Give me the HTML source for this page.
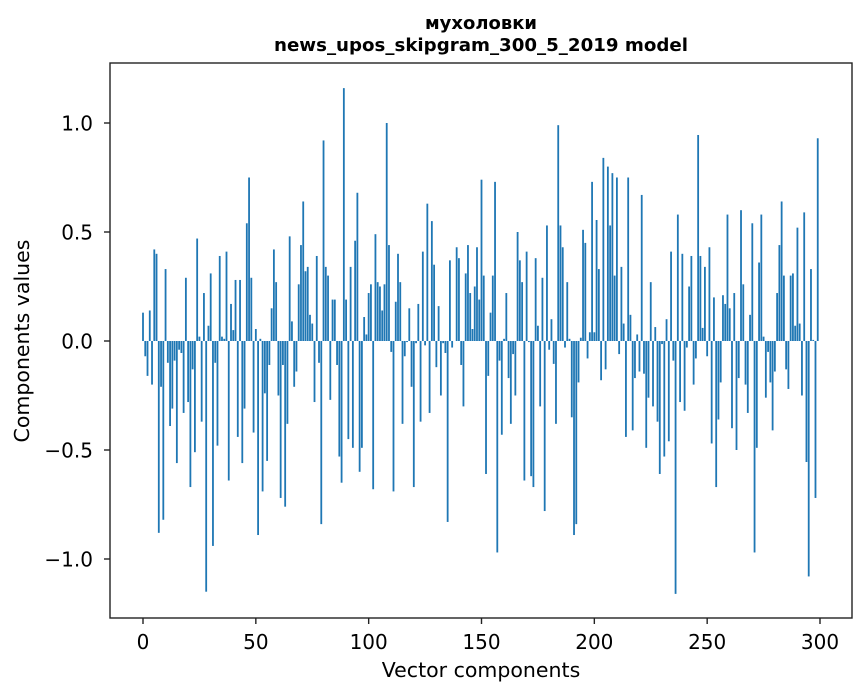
<!DOCTYPE html>
<html><head><meta charset="utf-8"><style>
body{margin:0;background:#fff}
svg{display:block;font-family:"DejaVu Sans","Liberation Sans",sans-serif}
</style></head><body>
<svg id="chart" width="867" height="696" xmlns="http://www.w3.org/2000/svg">
<rect width="867" height="696" fill="#fff"/>
<text x="481" y="29" text-anchor="middle" font-size="18" font-weight="bold" textLength="112" lengthAdjust="spacingAndGlyphs">мухоловки</text>
<text x="481" y="51" text-anchor="middle" font-size="18" font-weight="bold" textLength="414" lengthAdjust="spacingAndGlyphs">news_upos_skipgram_300_5_2019 model</text>
<g id="bars"></g>
<g id="xticks"></g>
<g id="yticks"></g>
<rect x="110" y="63" width="742" height="555" fill="none" stroke="#222" stroke-width="1.4"/>
<text x="481" y="677" text-anchor="middle" font-size="20.5">Vector components</text>
<text transform="translate(29,341) rotate(-90)" text-anchor="middle" font-size="20.5">Components values</text>
</svg>
<script>
const values = [
0.13,-0.07,-0.16,0.14,-0.20,0.42,0.40,-0.88,-0.21,-0.82,
0.33,-0.10,-0.39,-0.31,-0.09,-0.56,-0.04,-0.055,-0.33,0.29,
-0.28,-0.67,-0.13,-0.51,0.47,0.02,-0.37,0.22,-1.15,0.07,
0.31,-0.94,-0.10,-0.48,0.39,0.02,0.01,0.41,-0.64,0.17,
0.05,0.28,-0.44,0.28,-0.56,-0.31,0.54,0.75,0.29,-0.42,
0.055,-0.89,0.01,-0.69,-0.24,-0.55,-0.11,0.15,0.42,0.27,
-0.25,-0.72,-0.11,-0.76,-0.38,0.48,0.09,-0.21,-0.14,0.26,
0.44,0.64,0.32,0.34,0.12,0.08,-0.28,0.39,-0.10,-0.84,
0.92,0.34,0.30,-0.27,0.19,0.19,-0.11,-0.53,-0.65,1.16,
0.19,-0.45,0.34,-0.49,0.46,0.68,-0.60,-0.49,0.11,0.03,
0.22,0.26,-0.68,0.49,0.27,0.25,0.14,0.26,1.00,0.44,
-0.05,-0.69,0.18,0.40,0.27,-0.38,-0.07,-0.005,0.15,-0.21,
-0.67,-0.01,0.17,-0.37,0.41,-0.02,0.63,-0.33,0.55,0.35,
-0.12,0.16,-0.25,-0.01,-0.055,-0.83,0.37,-0.03,0.0,0.43,
0.38,-0.11,-0.30,0.31,0.44,0.22,0.055,0.25,0.43,0.19,
0.74,0.30,-0.61,-0.16,0.13,0.30,0.73,-0.97,-0.09,-0.43,
0.01,0.22,-0.17,-0.38,-0.06,-0.25,0.50,0.37,0.27,-0.64,
0.41,-0.005,-0.62,-0.67,0.38,0.07,-0.30,0.29,-0.78,0.53,
-0.04,0.10,-0.105,-0.38,0.99,0.53,0.43,-0.03,0.27,0.01,
-0.35,-0.89,-0.84,-0.19,0.015,0.51,0.45,-0.08,0.04,0.73,
0.04,0.555,0.33,-0.18,0.84,-0.13,0.80,0.53,0.77,0.30,
0.75,-0.06,0.34,0.08,-0.44,0.75,0.12,-0.41,-0.17,0.03,
-0.14,0.67,-0.15,-0.49,-0.26,0.27,-0.30,0.064,-0.37,-0.61,
-0.014,-0.53,0.10,-0.46,0.41,-0.09,-1.16,0.58,-0.28,0.40,
-0.32,-0.03,0.25,0.39,-0.20,-0.08,0.945,0.39,0.06,0.34,
-0.07,0.43,-0.47,0.20,-0.67,-0.36,-0.19,0.21,0.17,0.58,
0.15,-0.40,0.22,-0.50,-0.17,0.60,0.26,-0.20,-0.33,0.12,
0.54,-0.97,-0.49,0.36,0.58,0.02,-0.26,-0.05,-0.19,-0.41,
-0.14,0.22,0.44,0.64,0.30,-0.13,-0.22,0.30,0.31,0.07,
0.52,0.08,-0.25,0.59,-0.555,-1.08,0.33,0.005,-0.72,0.93
];
const xTickValues = [0,50,100,150,200,250,300];
const yTickValues = [-1.0,-0.5,0.0,0.5,1.0];
const yTickLabels = ["\u22121.0","\u22120.5","0.0","0.5","1.0"];

const NS = "http://www.w3.org/2000/svg";
function xScale(v){ return 143 + v * (677/300); }
function yScale(v){ return 341 - v * 218; }

const barsG = document.getElementById('bars');
values.forEach((v, i) => {
  const r = document.createElementNS(NS, 'rect');
  const w = 0.8 * (677/300);
  const y0 = yScale(0), y1 = yScale(v);
  r.setAttribute('x', xScale(i) - w/2);
  r.setAttribute('y', Math.min(y0, y1));
  r.setAttribute('width', w);
  r.setAttribute('height', Math.max(Math.abs(y1 - y0), 0.01));
  r.setAttribute('fill', '#1f77b4');
  
  
  barsG.appendChild(r);
});

const xg = document.getElementById('xticks');
xTickValues.forEach(t => {
  const x = xScale(t);
  const l = document.createElementNS(NS, 'line');
  l.setAttribute('x1', x); l.setAttribute('x2', x);
  l.setAttribute('y1', 618); l.setAttribute('y2', 624);
  l.setAttribute('stroke', '#222');
  l.setAttribute('stroke-width', '1.4');
  
  
  xg.appendChild(l);
  const tx = document.createElementNS(NS, 'text');
  tx.setAttribute('x', x); tx.setAttribute('y', 649);
  tx.setAttribute('text-anchor', 'middle');
  tx.setAttribute('font-size', '20');
  tx.textContent = t;
  
  
  xg.appendChild(tx);
});

const yg = document.getElementById('yticks');
yTickValues.forEach((t, k) => {
  const y = yScale(t);
  const l = document.createElementNS(NS, 'line');
  l.setAttribute('x1', 104); l.setAttribute('x2', 110);
  l.setAttribute('y1', y); l.setAttribute('y2', y);
  l.setAttribute('stroke', '#222');
  l.setAttribute('stroke-width', '1.4');
  
  
  yg.appendChild(l);
  const tx = document.createElementNS(NS, 'text');
  tx.setAttribute('x', 93); tx.setAttribute('y', y + 7.5);
  tx.setAttribute('text-anchor', 'end');
  tx.setAttribute('font-size', '20');
  tx.textContent = yTickLabels[k];
  
  
  yg.appendChild(tx);
});
</script>
</body></html>
